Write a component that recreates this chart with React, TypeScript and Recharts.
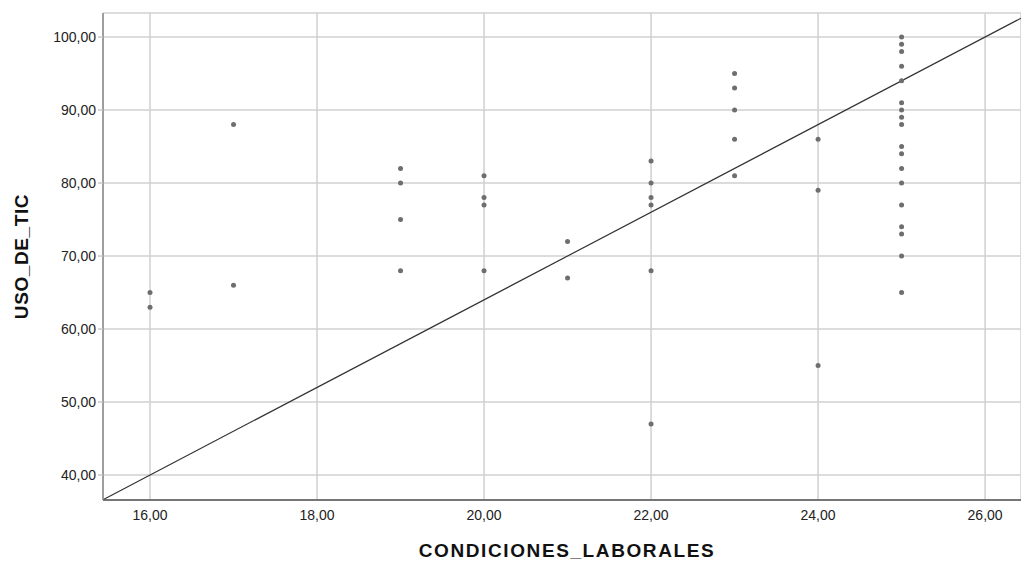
import {
  ScatterChart,
  Scatter,
  XAxis,
  YAxis,
  CartesianGrid,
  ReferenceLine,
} from "recharts";

// CONDICIONES_LABORALES (x) and USO_DE_TIC (y), one entry per respondent
const condicionesLaborales = [
  16, 16,
  17, 17,
  19, 19, 19, 19,
  20, 20, 20, 20,
  21, 21,
  22, 22, 22, 22, 22, 22,
  23, 23, 23, 23, 23,
  24, 24, 24,
  25, 25, 25, 25, 25, 25, 25, 25, 25, 25, 25, 25, 25, 25, 25, 25, 25, 25,
];
const usoDeTic = [
  65, 63,
  88, 66,
  82, 80, 75, 68,
  81, 78, 77, 68,
  72, 67,
  83, 80, 78, 77, 68, 47,
  95, 93, 90, 86, 81,
  86, 79, 55,
  100, 99, 98, 96, 94, 91, 90, 89, 88, 85, 84, 82, 80, 77, 74, 73, 70, 65,
];

const xTicks = [16, 18, 20, 22, 24, 26];
const yTicks = [40, 50, 60, 70, 80, 90, 100];
const xDomain = [15.437, 26.43];
const yDomain = [36.58, 103.29];

// reference line drawn in the plot
const fitSlope = 6;
const fitIntercept = -56;

const points = condicionesLaborales.map((x, i) => ({ x, y: usoDeTic[i] }));
const fitSegment = xDomain.map((x) => ({ x, y: fitSlope * x + fitIntercept }));

const fmt = (v: number) => v.toFixed(2).replace(".", ",");

const tickStyle = {
  fontFamily: "'Liberation Sans', Arial, sans-serif",
  fontSize: 14,
  fill: "#222",
};

const Dot = (props: any) => (
  <circle cx={props.cx} cy={props.cy} r={2.5} fill="#6e6e6e" />
);

const YTitle = (props: any) => {
  const vb = props.viewBox || { x: 0, y: 13, height: 487 };
  const cx = 28;
  const cy = vb.y + vb.height / 2;
  return (
    <text
      x={cx}
      y={cy}
      transform={`rotate(-90, ${cx}, ${cy})`}
      textAnchor="middle"
      fontFamily="'Liberation Sans', Arial, sans-serif"
      fontWeight="bold"
      fontSize={19}
      letterSpacing={0.6}
      fill="#111"
    >
      USO_DE_TIC
    </text>
  );
};

const XTitle = (props: any) => {
  const vb = props.viewBox || { x: 103, width: 918 };
  const cx = vb.x + vb.width / 2 + 5;
  return (
    <text
      x={cx}
      y={557}
      textAnchor="middle"
      fontFamily="'Liberation Sans', Arial, sans-serif"
      fontWeight="bold"
      fontSize={19}
      letterSpacing={1.6}
      fill="#111"
    >
      CONDICIONES_LABORALES
    </text>
  );
};

export default function App() {
  return (
    <div style={{ position: "absolute", left: 0, top: 0, background: "#fff" }}>
      <ScatterChart
        width={1021}
        height={562}
        margin={{ top: 13, right: 0, bottom: 0, left: 0 }}
      >
        <CartesianGrid stroke="#d0d0d0" strokeWidth={1.5} />
        <XAxis
          type="number"
          dataKey="x"
          domain={xDomain}
          ticks={xTicks}
          allowDataOverflow
          height={62}
          tickFormatter={fmt}
          tick={tickStyle}
          tickLine={false}
          tickSize={0}
          tickMargin={10}
          axisLine={{ stroke: "#555", strokeWidth: 1.5 }}
          label={<XTitle />}
        />
        <YAxis
          type="number"
          dataKey="y"
          domain={yDomain}
          ticks={yTicks}
          allowDataOverflow
          width={103}
          tickFormatter={fmt}
          tick={tickStyle}
          tickLine={{ stroke: "#c8c8c8", strokeWidth: 1.5 }}
          tickSize={5}
          tickMargin={2}
          axisLine={{ stroke: "#8a8a8a", strokeWidth: 1.5 }}
          label={<YTitle />}
        />
        <ReferenceLine
          segment={fitSegment}
          stroke="#333"
          strokeWidth={1.2}
          ifOverflow="visible"
        />
        <Scatter
          data={points}
          fill="#6e6e6e"
          shape={<Dot />}
          isAnimationActive={false}
        />
      </ScatterChart>
    </div>
  );
}
